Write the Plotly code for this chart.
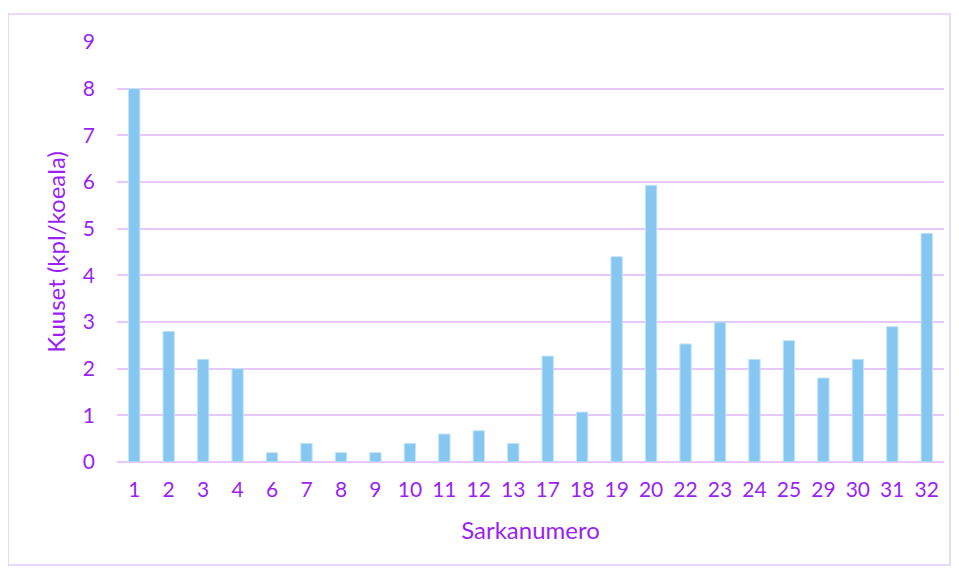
import plotly.graph_objects as go

categories = ["1", "2", "3", "4", "6", "7", "8", "9", "10", "11", "12", "13",
              "17", "18", "19", "20", "22", "23", "24", "25", "29", "30", "31", "32"]
values = [8.0, 2.8, 2.2, 2.0, 0.2, 0.4, 0.2, 0.2, 0.4, 0.6, 0.67, 0.4,
          2.27, 1.07, 4.4, 5.93, 2.53, 3.0, 2.2, 2.6, 1.8, 2.2, 2.9, 4.9]
y_ticks = [0, 1, 2, 3, 4, 5, 6, 7, 8, 9]

purple = "#9B1FF5"
grid = "#E8C8FA"
font_family = "Lato, Open Sans, sans-serif"

fig = go.Figure(go.Bar(
    x=categories, y=values,
    marker=dict(color="#85C7F0", line=dict(color="#C4E4F8", width=1)),
    width=0.33,
))

# page body has an 8px margin; figure coordinates are offset by 8
OFF = 8
W, H = 959 - OFF, 569 - OFF
L, R, T, B = 117 - OFF, 15, 42 - OFF, H - (462 - OFF)
PW, PH = W - L - R, H - T - B

fig.update_layout(
    width=W, height=H,
    margin=dict(l=L, r=R, t=T, b=B),
    paper_bgcolor="white", plot_bgcolor="white",
    font=dict(family=font_family, color=purple, size=21),
    showlegend=False,
    xaxis=dict(
        type="category", showgrid=False, showline=False, zeroline=False,
        ticks="", tickfont=dict(size=21, color=purple), ticklabelstandoff=13,
        title=dict(text="Sarkanumero", font=dict(size=24, color=purple), standoff=22),
    ),
    yaxis=dict(
        range=[0, 9], tickvals=y_ticks, showgrid=True, gridcolor=grid, gridwidth=2,
        zeroline=True, zerolinecolor=grid, zerolinewidth=2, showline=False,
        ticks="", tickfont=dict(size=21, color=purple), ticklabelstandoff=21,
        title=dict(text="Kuuset (kpl/koeala)", font=dict(size=24, color=purple), standoff=10),
    ),
    shapes=[dict(
        type="rect", xref="paper", yref="paper",
        x0=(8 - 117) / PW, x1=(950 - 117) / PW,
        y0=-(565 - 462) / PH, y1=1 + (42 - 14) / PH,
        line=dict(color="#E2CCF8", width=1.5), fillcolor="rgba(0,0,0,0)", layer="below",
    )],
)

fig.write_html("out.html")
